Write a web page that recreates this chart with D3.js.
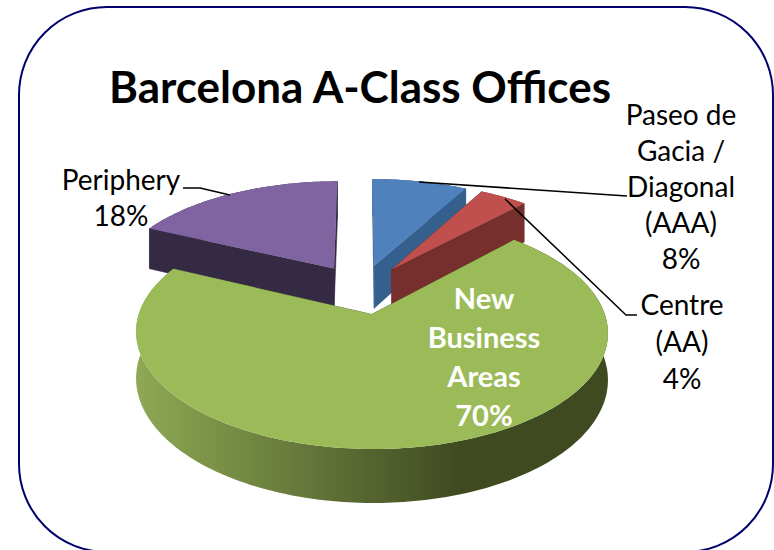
<!DOCTYPE html>
<html>
<head>
<meta charset="utf-8">
<script src="https://cdn.jsdelivr.net/npm/d3@7"></script>
<style>
  html, body { margin: 0; padding: 0; background: #fff; }
  svg { display: block; }
  text { font-family: Lato, "Noto Sans", sans-serif; }
</style>
</head>
<body>
<div id="chart"></div>
<script>
const categories = ["Paseo de Gacia / Diagonal (AAA)", "Centre (AA)", "New Business Areas", "Periphery"]
const shares = [8, 4, 70, 18]
const titleText = "Barcelona A-Class Offices"

const topColors = ["#4f81bd", "#c0504d", "#9bbb59", "#8064a2"]
const sideColors = ["#355f8c", "#772f2d", "url(#greenWall)", "#352a44"]

// label text, anchor x and baseline of the first line
const labelLines = [
    ["Paseo de", "Gacia /", "Diagonal", "(AAA)", "8%"],
    ["Centre", "(AA)", "4%"],
    ["New", "Business", "Areas", "70%"],
    ["Periphery", "18%"]
]
const labelX = [681, 682, 484, 121]
const labelY = [125, 315, 309, 190]
const labelStep = [36, 37, 39, 36]

const leaders = [
    [[419, 182], [627, 196]],
    [[505, 199], [626, 315], [637, 315]],
    [[230, 195], [200, 188], [183, 188]]
]

const width = 774
const height = 550

// pie projection fitted to the picture
const cx = 361.5, cy = 289
const radX = 225, radY = 106
const persp = 0.15
const depth = 44
const explode = 0.235

const svg = d3.select("#chart").append("svg")
    .attr("width", width)
    .attr("height", height)

const grad = svg.append("defs").append("linearGradient")
    .attr("id", "greenWall")
    .attr("gradientUnits", "userSpaceOnUse")
    .attr("x1", 137).attr("x2", 460).attr("y1", 0).attr("y2", 0)
grad.append("stop").attr("offset", "0%").attr("stop-color", "#8ea854")
grad.append("stop").attr("offset", "100%").attr("stop-color", "#3f4a21")

svg.append("rect")
    .attr("x", 19).attr("y", 7)
    .attr("width", 754).attr("height", 545)
    .attr("rx", 88)
    .attr("fill", "#fff")
    .attr("stroke", "#00006e")
    .attr("stroke-width", 2)

const project = (x, y, z) => {
    const s = 1 + persp * y
    return [cx + radX * x / s, cy + (z - radY * y) / s]
}

const line = d3.line()
const pie = d3.pie().sort(null)

const slices = pie(shares).map((d, i) => {
    const mid = (d.startAngle + d.endAngle) / 2
    const ox = explode * Math.sin(mid)
    const oy = explode * Math.cos(mid)
    const n = Math.ceil((d.endAngle - d.startAngle) / 0.02)
    const arc = d3.range(n + 1).map(k => {
        const a = d.startAngle + (d.endAngle - d.startAngle) * k / n
        return [ox + Math.sin(a), oy + Math.cos(a)]
    })
    return { i, apex: [ox, oy], arc }
})

const at = (p, z) => project(p[0], p[1], z)

// back slices first, the big green one goes on top
const order = [3, 0, 1, 2]
order.forEach(i => {
    const s = slices[i]
    const g = svg.append("g")
    const first = s.arc[0], last = s.arc[s.arc.length - 1]

    const walls = [
        [s.apex, first],
        [s.apex, last]
    ]
    walls.forEach(w => {
        g.append("path")
            .attr("d", line([at(w[0], 0), at(w[1], 0), at(w[1], depth), at(w[0], depth)]) + "Z")
            .attr("fill", sideColors[i])
            .attr("stroke", sideColors[i])
            .attr("stroke-width", 0.5)
    })

    const outer = s.arc.map(p => at(p, 0)).concat(s.arc.slice().reverse().map(p => at(p, depth)))
    g.append("path")
        .attr("d", line(outer) + "Z")
        .attr("fill", sideColors[i])

    const top = [at(s.apex, 0)].concat(s.arc.map(p => at(p, 0)))
    g.append("path")
        .attr("d", line(top) + "Z")
        .attr("fill", topColors[i])
})

svg.append("g").selectAll("path")
    .data(leaders)
    .join("path")
    .attr("d", d => line(d))
    .attr("fill", "none")
    .attr("stroke", "#000")
    .attr("stroke-width", 1.5)

svg.append("text")
    .attr("x", 360)
    .attr("y", 103)
    .attr("text-anchor", "middle")
    .attr("font-size", 44)
    .attr("font-weight", 700)
    .attr("fill", "#000")
    .text(titleText)

labelLines.forEach((lines, i) => {
    const inside = i === 2
    svg.append("text")
        .attr("text-anchor", "middle")
        .attr("font-size", inside ? 29 : 28)
        .attr("font-weight", inside ? 700 : 400)
        .attr("fill", inside ? "#fff" : "#000")
        .selectAll("tspan")
        .data(lines)
        .join("tspan")
        .attr("x", labelX[i])
        .attr("y", (d, k) => labelY[i] + k * labelStep[i])
        .text(d => d)
})
</script>
</body>
</html>
